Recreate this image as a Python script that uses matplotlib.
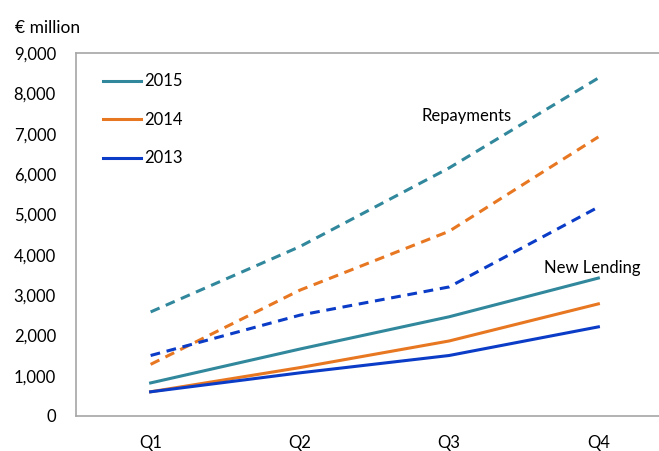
import matplotlib
matplotlib.use("Agg")
import matplotlib.pyplot as plt
from matplotlib.ticker import FuncFormatter

plt.rcParams['font.family'] = ['Lato', 'DejaVu Sans']

quarters = ["Q1", "Q2", "Q3", "Q4"]
years = ["2015", "2014", "2013"]
new_lending = {
    "2015": [820, 1660, 2460, 3420],
    "2014": [600, 1200, 1860, 2780],
    "2013": [600, 1070, 1500, 2210],
}
repayments = {
    "2015": [2580, 4200, 6150, 8380],
    "2014": [1280, 3120, 4580, 6920],
    "2013": [1500, 2500, 3200, 5180],
}
colors = {"2015": "#31889C", "2014": "#E87722", "2013": "#0B3CC7"}

fig = plt.figure(figsize=(6.59, 4.51), dpi=100)
ax = fig.add_axes([76/659, 35/451, (673-76)/659, (416-53)/451])
x = list(range(len(quarters)))

handles = []
for y in years:
    h, = ax.plot(x, new_lending[y], color=colors[y], lw=2.2, solid_joinstyle='round')
    handles.append(h)
    ax.plot(x, repayments[y], color=colors[y], lw=2.2, dashes=(3.2, 2.2))

ax.set_xlim(-0.5, 3.5)
ax.set_ylim(0, 9000)
ax.set_yticks(range(0, 9001, 1000))
ax.yaxis.set_major_formatter(FuncFormatter(lambda v, p: f"{int(v):,}"))
ax.set_xticks(x)
ax.set_xticklabels(quarters)
ax.tick_params(length=0, labelsize=12, colors='black')
ax.tick_params(axis='y', pad=14.4)
ax.tick_params(axis='x', pad=14)
for s in ax.spines.values():
    s.set_color('#A6A6A6')
    s.set_linewidth(1.2)

fig.text(15/659, 1 - 28/451, "€ million", fontsize=12.5, va='center', ha='left')

leg = ax.legend(handles, years, loc='upper left', bbox_to_anchor=(0.02, 0.985),
                frameon=False, fontsize=12, handlelength=2.3, handletextpad=0.2,
                labelspacing=1.35)

ax.text(2.12, 7440, "Repayments", fontsize=12, ha='center', va='center')
ax.text(2.96, 3670, "New Lending", fontsize=12, ha='center', va='center')

fig.savefig("out.png", dpi=100)
